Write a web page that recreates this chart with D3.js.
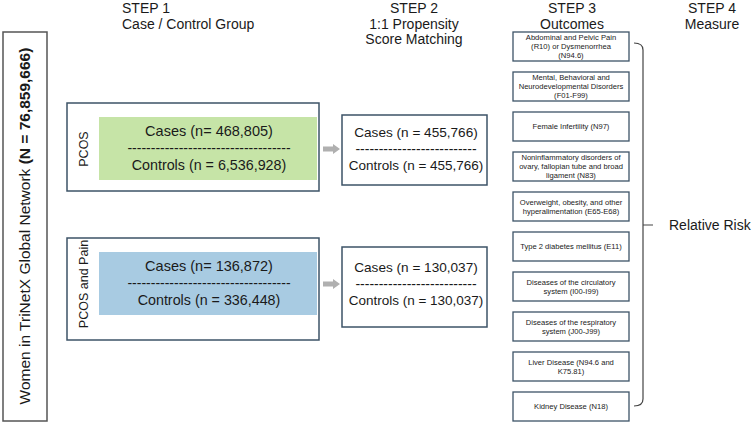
<!DOCTYPE html>
<html>
<head>
<meta charset="utf-8">
<script src="https://cdn.jsdelivr.net/npm/d3@7"></script>
<style>
  body { margin: 0; background: #fff; }
  text { font-family: "Liberation Sans", Arial, sans-serif; fill: #1a1a1a; }
</style>
</head>
<body>
<svg id="chart" width="754" height="423"></svg>
<script>
// data
var stepTitles = ["STEP 1", "STEP 2", "STEP 3", "STEP 4"];
var stepSubtitles = [["Case / Control Group"], ["1:1 Propensity", "Score Matching"], ["Outcomes"], ["Measure"]];
var populationLabel = "Women in TriNetX Global Network ";
var populationN = 76859666;
var groups = ["PCOS", "PCOS and Pain"];
var casesN = [468805, 136872];
var controlsN = [6536928, 336448];
var matchedN = [455766, 130037];
var outcomes = [
  ["Abdominal and Pelvic Pain", "(R10) or Dysmenorrhea", "(N94.6)"],
  ["Mental, Behavioral and", "Neurodevelopmental Disorders", "(F01-F99)"],
  ["Female Infertility (N97)"],
  ["Noninflammatory disorders of", "ovary, fallopian tube and broad", "ligament (N83)"],
  ["Overweight, obesity, and other", "hyperalimentation (E65-E68)"],
  ["Type 2 diabetes mellitus (E11)"],
  ["Diseases of the circulatory", "system (I00-I99)"],
  ["Diseases of the respiratory", "system (J00-J99)"],
  ["Liver Disease (N94.6 and", "K75.81)"],
  ["Kidney Disease (N18)"]
];
var measure = "Relative Risk";

var fmt = d3.format(",");
var svg = d3.select("#chart");
var boxStroke = "#3d5367";
var fills = ["#c6e4a7", "#a8cbe2"];

// step columns
var stepX = [122, 414, 572, 712];
var headers = svg.selectAll(".hdr").data(stepTitles).enter().append("text")
  .attr("class", "hdr")
  .attr("x", (d, i) => stepX[i])
  .attr("y", 13)
  .attr("font-size", 14)
  .attr("text-anchor", (d, i) => i == 0 ? "start" : "middle");
headers.append("tspan").text(d => d);
headers.each(function(d, i) {
  var t = d3.select(this);
  stepSubtitles[i].forEach(function(s) {
    t.append("tspan").attr("x", stepX[i]).attr("dy", 15.5).text(s);
  });
});

// left population box
svg.append("rect")
  .attr("x", 3).attr("y", 32).attr("width", 44).attr("height", 389)
  .attr("fill", "none").attr("stroke", "#555").attr("stroke-width", 1.5);
var pop = svg.append("text")
  .attr("transform", "translate(30,226) rotate(-90)")
  .attr("text-anchor", "middle")
  .attr("font-size", 15.5);
pop.append("tspan").text(populationLabel);
pop.append("tspan").attr("font-weight", "bold").text("(N = " + fmt(populationN) + ")");

// group rows
var yGroup = d3.scalePoint().domain(groups).range([149, 284]);

var rows = svg.selectAll(".grp").data(groups).enter().append("g").attr("class", "grp");

rows.append("rect")
  .attr("x", 67).attr("y", d => yGroup(d) - 46)
  .attr("width", 252).attr("height", (d, i) => i == 0 ? 88 : 102)
  .attr("fill", "#fff").attr("stroke", boxStroke).attr("stroke-width", 1.5);

rows.append("rect")
  .attr("x", 99).attr("y", d => yGroup(d) - 32)
  .attr("width", 218).attr("height", 63)
  .attr("fill", (d, i) => fills[i]);

rows.append("text")
  .attr("transform", d => `translate(88,${yGroup(d)}) rotate(-90)`)
  .attr("text-anchor", "middle")
  .attr("font-size", 12.5)
  .text(d => d);

rows.append("text")
  .attr("x", 209).attr("y", d => yGroup(d) - 13)
  .attr("text-anchor", "middle").attr("font-size", 14.5)
  .text((d, i) => "Cases (n= " + fmt(casesN[i]) + ")");
rows.append("text")
  .attr("x", 209).attr("y", d => yGroup(d) + 4)
  .attr("text-anchor", "middle").attr("font-size", 14)
  .text("-----------------------------------");
rows.append("text")
  .attr("x", 209).attr("y", d => yGroup(d) + 21)
  .attr("text-anchor", "middle").attr("font-size", 14.3)
  .text((d, i) => "Controls (n = " + fmt(controlsN[i]) + ")");

// arrows
rows.append("path")
  .attr("d", d => {
    var y = yGroup(d);
    return `M323,${y-2.5}L333,${y-2.5}L333,${y-5}L340,${y}L333,${y+5}L333,${y+2.5}L323,${y+2.5}Z`;
  })
  .attr("fill", "#b0b0b0");

// matched boxes
rows.append("rect")
  .attr("x", 342).attr("y", (d, i) => yGroup(d) - (i == 0 ? 34 : 37))
  .attr("width", 145).attr("height", (d, i) => i == 0 ? 70 : 80)
  .attr("fill", "#fff").attr("stroke", boxStroke).attr("stroke-width", 1.5);
rows.append("text")
  .attr("x", 416).attr("y", d => yGroup(d) - 12)
  .attr("text-anchor", "middle").attr("font-size", 13.6)
  .text((d, i) => "Cases (n = " + fmt(matchedN[i]) + ")");
rows.append("text")
  .attr("x", 416).attr("y", d => yGroup(d) + 5)
  .attr("text-anchor", "middle").attr("font-size", 14)
  .text("--------------------------");
rows.append("text")
  .attr("x", 416).attr("y", d => yGroup(d) + 21)
  .attr("text-anchor", "middle").attr("font-size", 13.5)
  .text((d, i) => "Controls (n = " + fmt(matchedN[i]) + ")");

// outcomes
var yOut = d3.scaleBand().domain(d3.range(outcomes.length)).range([32, 421]).paddingInner(0.275);

var outs = svg.selectAll(".out").data(outcomes).enter().append("g").attr("class", "out")
  .attr("transform", (d, i) => `translate(513,${yOut(i)})`);
outs.append("rect")
  .attr("width", 116).attr("height", yOut.bandwidth())
  .attr("fill", "#fff").attr("stroke", boxStroke).attr("stroke-width", 1.3);
outs.each(function(d) {
  var g = d3.select(this);
  var lh = 9;
  var y0 = yOut.bandwidth() / 2 - (d.length - 1) * lh / 2 + 2.8;
  g.selectAll("text").data(d).enter().append("text")
    .attr("x", 58).attr("y", (s, j) => y0 + j * lh)
    .attr("text-anchor", "middle").attr("font-size", 7.6)
    .text(s => s);
});

// bracket
var yTop = yOut(0) + 11, yBot = yOut(outcomes.length - 1) + 14;
var yMid = 225;
svg.append("path")
  .attr("d", `M634,${yTop}Q643,${yTop} 643,${yTop+7}L643,${yBot-7}Q643,${yBot} 634,${yBot}M643,${yMid}L653,${yMid}`)
  .attr("fill", "none").attr("stroke", "#444").attr("stroke-width", 1.2);

svg.append("text")
  .attr("x", 669).attr("y", yMid + 5)
  .attr("font-size", 14)
  .text(measure);
</script>
</body>
</html>
